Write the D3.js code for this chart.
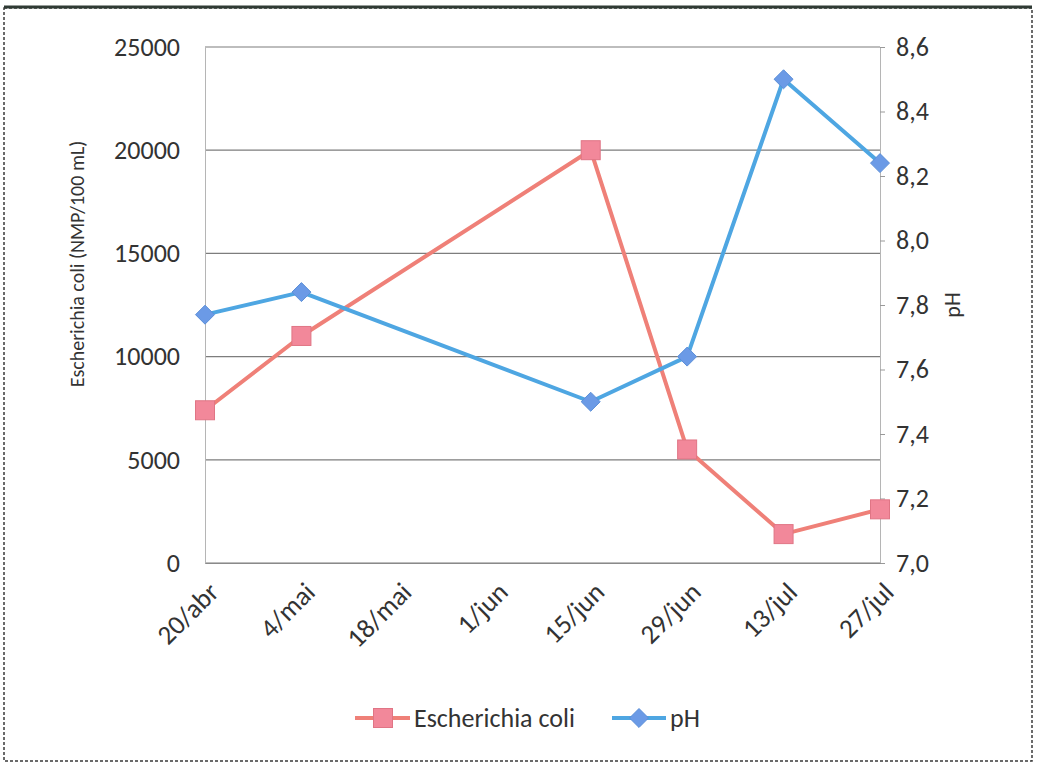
<!DOCTYPE html>
<html>
<head>
<meta charset="utf-8">
<script src="https://cdn.jsdelivr.net/npm/d3@7"></script>
<style>
  body { margin: 0; background: #fff; }
  text { font-family: Carlito, Lato, "Open Sans", sans-serif; fill: #333; }
</style>
</head>
<body>
<svg id="chart" width="1038" height="766"></svg>
<script>
// Sampling dates and measured values
const sampleDates = ["2010-04-20", "2010-05-04", "2010-06-15", "2010-06-29", "2010-07-13", "2010-07-27"];
const ecoliValues = [7400, 11000, 20000, 5500, 1400, 2600];
const phValues = [7.77, 7.84, 7.50, 7.64, 8.50, 8.24];

// Axis ticks
const xTickDates = ["2010-04-20", "2010-05-04", "2010-05-18", "2010-06-01", "2010-06-15", "2010-06-29", "2010-07-13", "2010-07-27"];
const xTickLabels = ["20/abr", "4/mai", "18/mai", "1/jun", "15/jun", "29/jun", "13/jul", "27/jul"];
const ecoliTicks = [0, 5000, 10000, 15000, 20000, 25000];
const phTicks = [7.0, 7.2, 7.4, 7.6, 7.8, 8.0, 8.2, 8.4, 8.6];

const seriesNames = ["Escherichia coli", "pH"];
const ecoliColor = "#ef8078", ecoliMarker = "#f2889a";
const phColor = "#4ea6e2", phMarker = "#6b9ae6";

const svg = d3.select("#chart");
const plot = { left: 205, right: 880, top: 47, bottom: 563 };

const parse = d3.timeParse("%Y-%m-%d");
const dates = sampleDates.map(parse);
const tickDates = xTickDates.map(parse);

const x = d3.scaleTime()
  .domain([tickDates[0], tickDates[tickDates.length - 1]])
  .range([plot.left, plot.right]);
const yL = d3.scaleLinear().domain([0, 25000]).range([plot.bottom, plot.top]);
const yR = d3.scaleLinear().domain([7.0, 8.6]).range([plot.bottom, plot.top]);

// Outer frame
svg.append("rect")
  .attr("x", 4).attr("y", 8).attr("width", 1028).attr("height", 753)
  .attr("fill", "none").attr("stroke", "#3a3a3a").attr("stroke-width", 1.5)
  .attr("stroke-dasharray", "3,2");
svg.append("line")
  .attr("x1", 4).attr("x2", 1032).attr("y1", 7).attr("y2", 7)
  .attr("stroke", "#2f3a34").attr("stroke-width", 3);

// Horizontal gridlines
svg.append("g")
  .selectAll("line")
  .data(ecoliTicks)
  .join("line")
  .attr("x1", plot.left).attr("x2", plot.right)
  .attr("y1", d => yL(d)).attr("y2", d => yL(d))
  .attr("stroke", "#7d7d7d").attr("stroke-width", 1.2);

// Left axis
const leftAxis = svg.append("g")
  .attr("transform", `translate(${plot.left},0)`)
  .call(d3.axisLeft(yL).tickValues(ecoliTicks).tickSize(0).tickPadding(25).tickFormat(d3.format("d")));
leftAxis.select(".domain").attr("stroke", "#b5b5b5");
leftAxis.selectAll("text").style("font-size", "26px").attr("fill", "#333");

// Right axis
const rightAxis = svg.append("g")
  .attr("transform", `translate(${plot.right},0)`)
  .call(d3.axisRight(yR).tickValues(phTicks).tickSize(5).tickPadding(11)
    .tickFormat(d => d3.format(".1f")(d).replace(".", ",")));
rightAxis.select(".domain").attr("stroke", "#b5b5b5");
rightAxis.selectAll(".tick line").attr("stroke", "#999");
rightAxis.selectAll("text").style("font-size", "26px").attr("fill", "#333");

// Bottom axis with rotated date labels
const bottomAxis = svg.append("g")
  .attr("transform", `translate(0,${plot.bottom})`)
  .call(d3.axisBottom(x).tickValues(tickDates).tickSize(0)
    .tickFormat((d, i) => xTickLabels[i]));
bottomAxis.select(".domain").attr("stroke", "#8a8a8a");
bottomAxis.selectAll("text")
  .style("font-size", "27px").attr("fill", "#333")
  .attr("text-anchor", "end")
  .attr("dy", "0.35em")
  .attr("transform", "translate(6,22) rotate(-45)");

// Axis titles
svg.append("text")
  .attr("transform", "translate(84,264) rotate(-90)")
  .attr("text-anchor", "middle")
  .style("font-size", "20px")
  .text("Escherichia coli (NMP/100 mL)");
svg.append("text")
  .attr("transform", `translate(960,${(plot.top + plot.bottom) / 2}) rotate(-90)`)
  .attr("text-anchor", "middle")
  .style("font-size", "22px")
  .text("pH");

// Lines
const ecoliLine = d3.line().x((d, i) => x(dates[i])).y(d => yL(d));
const phLine = d3.line().x((d, i) => x(dates[i])).y(d => yR(d));

svg.append("path").datum(ecoliValues)
  .attr("d", ecoliLine).attr("fill", "none")
  .attr("stroke", ecoliColor).attr("stroke-width", 4).attr("stroke-linejoin", "round");
svg.append("path").datum(phValues)
  .attr("d", phLine).attr("fill", "none")
  .attr("stroke", phColor).attr("stroke-width", 4).attr("stroke-linejoin", "round");

// Markers
const sq = 19;
svg.append("g").selectAll("rect")
  .data(ecoliValues)
  .join("rect")
  .attr("x", (d, i) => x(dates[i]) - sq / 2)
  .attr("y", d => yL(d) - sq / 2)
  .attr("width", sq).attr("height", sq)
  .attr("fill", ecoliMarker).attr("stroke", "#e07585").attr("stroke-width", 1);

const diamond = d3.symbol().type(d3.symbolDiamond2).size(230);
svg.append("g").selectAll("path")
  .data(phValues)
  .join("path")
  .attr("d", diamond)
  .attr("transform", (d, i) => `translate(${x(dates[i])},${yR(d)})`)
  .attr("fill", phMarker).attr("stroke", "#5b8fd8").attr("stroke-width", 1);

// Legend
const legend = svg.append("g").attr("transform", "translate(0,718)");
const e = legend.append("g");
e.append("line").attr("x1", 355).attr("x2", 410).attr("y1", 0).attr("y2", 0)
  .attr("stroke", ecoliColor).attr("stroke-width", 4);
e.append("rect").attr("x", 383 - sq / 2).attr("y", -sq / 2).attr("width", sq).attr("height", sq)
  .attr("fill", ecoliMarker).attr("stroke", "#e07585");
e.append("text").attr("x", 414).attr("y", 0).attr("dy", "0.35em")
  .style("font-size", "26px").text(seriesNames[0]);

const p = legend.append("g");
p.append("line").attr("x1", 612).attr("x2", 666).attr("y1", 0).attr("y2", 0)
  .attr("stroke", phColor).attr("stroke-width", 4);
p.append("path").attr("d", diamond).attr("transform", "translate(639,0)")
  .attr("fill", phMarker).attr("stroke", "#5b8fd8");
p.append("text").attr("x", 670).attr("y", 0).attr("dy", "0.35em")
  .style("font-size", "26px").text(seriesNames[1]);
</script>
</body>
</html>
